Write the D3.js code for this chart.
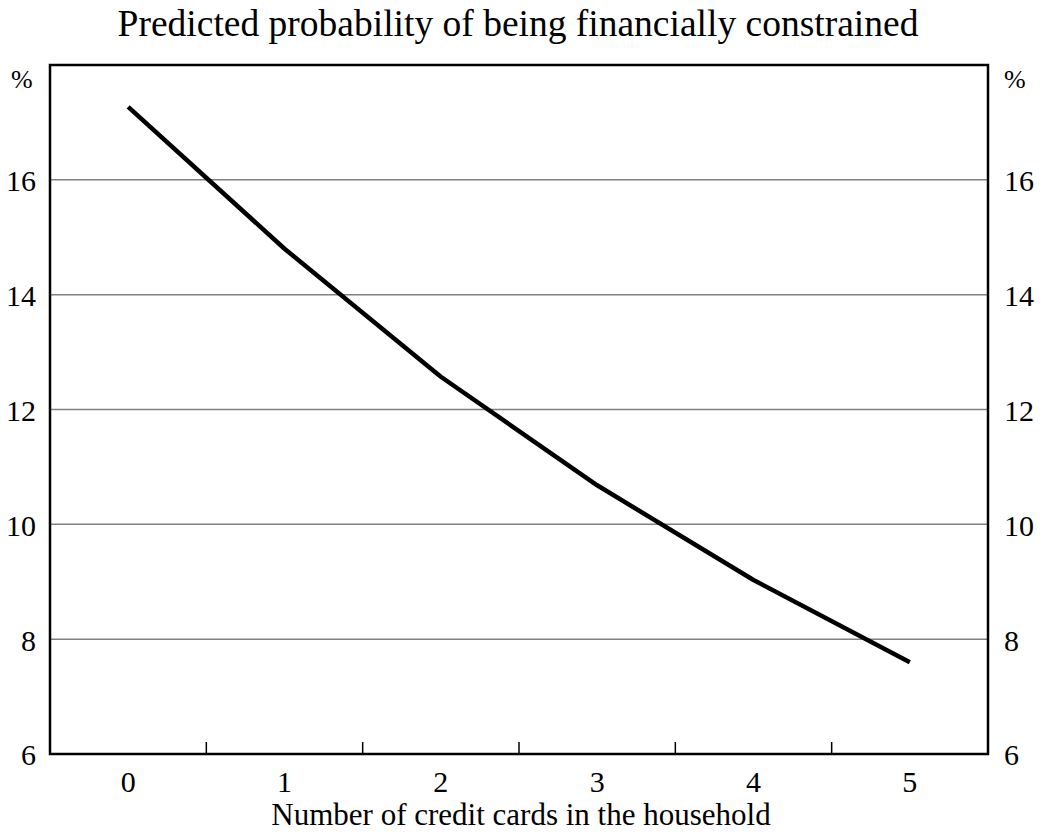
<!DOCTYPE html>
<html><head><meta charset="utf-8">
<script src="https://cdn.jsdelivr.net/npm/d3@7"></script>
<style>body{margin:0;background:#fff}svg{display:block}text{font-family:"Liberation Serif","Times New Roman",serif;fill:#000}</style>
</head><body>
<script>
const categories = ["0","1","2","3","4","5"];
const values = [17.27, 14.8, 12.57, 10.68, 9.03, 7.6];
const yTicks = [6, 8, 10, 12, 14, 16];
const title = "Predicted probability of being financially constrained";
const xTitle = "Number of credit cards in the household";
const unit = "%";

const W = 1042, H = 835;
const m = {left: 50, right: 54, top: 65, bottom: 81};
const svg = d3.select("body").append("svg").attr("width", W).attr("height", H);
const x = d3.scaleBand().domain(categories).range([m.left, W - m.right]);
const y = d3.scaleLinear().domain([6, 18]).range([H - m.bottom, m.top]);

// gridlines
svg.append("g").selectAll("line").data(yTicks.filter(d => d > 6)).join("line")
  .attr("x1", m.left).attr("x2", W - m.right)
  .attr("y1", d => y(d)).attr("y2", d => y(d))
  .attr("stroke", "#808080").attr("stroke-width", 1.5);

// y labels both sides
svg.append("g").selectAll("text").data(yTicks).join("text")
  .attr("x", 36).attr("y", d => y(d)).attr("dy", "0.38em")
  .attr("text-anchor", "end").attr("font-size", 30).text(d => d);
svg.append("g").selectAll("text").data(yTicks).join("text")
  .attr("x", 1004).attr("y", d => y(d)).attr("dy", "0.38em")
  .attr("text-anchor", "start").attr("font-size", 30).text(d => d);
svg.append("text").attr("x", 11).attr("y", 88).attr("font-size", 26).text(unit);
svg.append("text").attr("x", 1004).attr("y", 88).attr("font-size", 26).text(unit);

// x tick marks between categories
const bounds = categories.slice(1).map(c => x(c));
svg.append("g").selectAll("line").data(bounds).join("line")
  .attr("x1", d => d).attr("x2", d => d)
  .attr("y1", y(6)).attr("y2", y(6) - 12)
  .attr("stroke", "#000").attr("stroke-width", 1.5);

// x labels
svg.append("g").selectAll("text").data(categories).join("text")
  .attr("x", d => x(d) + x.bandwidth() / 2).attr("y", 792)
  .attr("text-anchor", "middle").attr("font-size", 30).text(d => d);

// frame
svg.append("rect").attr("x", m.left).attr("y", m.top)
  .attr("width", W - m.left - m.right).attr("height", H - m.top - m.bottom)
  .attr("fill", "none").attr("stroke", "#000").attr("stroke-width", 2.5);

// line
const line = d3.line().x((d, i) => x(categories[i]) + x.bandwidth() / 2).y(d => y(d));
svg.append("path").datum(values).attr("d", line)
  .attr("fill", "none").attr("stroke", "#000").attr("stroke-width", 4.5)
  .attr("stroke-linejoin", "round");

svg.append("text").attr("x", 518).attr("y", 36).attr("text-anchor", "middle")
  .attr("font-size", 37.5).text(title);
svg.append("text").attr("x", 521).attr("y", 825).attr("text-anchor", "middle")
  .attr("font-size", 31).text(xTitle);
</script>
</body></html>
